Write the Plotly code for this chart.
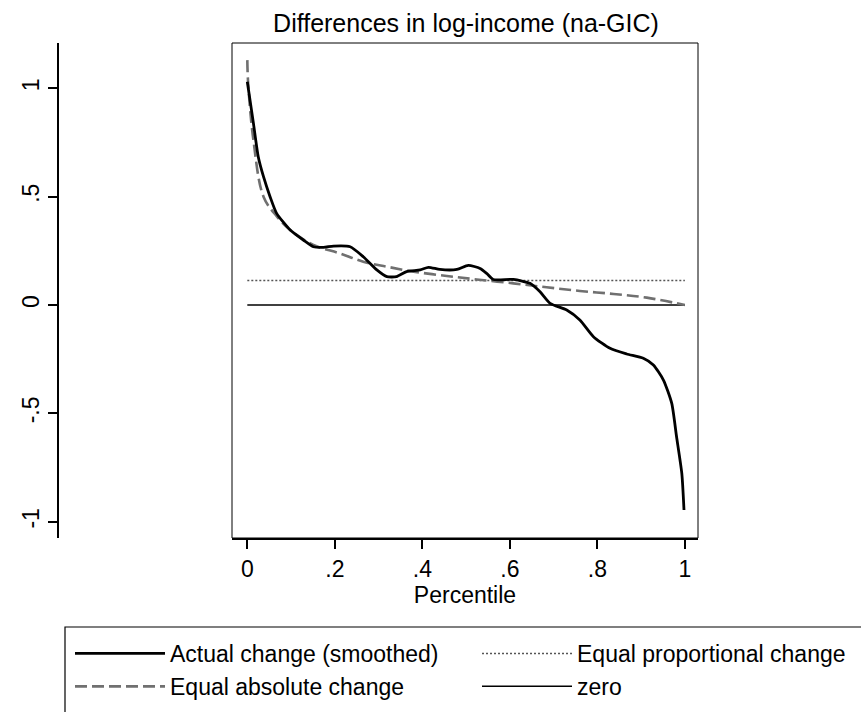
import plotly.graph_objects as go

# ---- data ----
pct_actual = [0.0, 0.014, 0.025, 0.037, 0.052, 0.067, 0.098, 0.128, 0.151, 0.174, 0.197,
              0.235, 0.265, 0.296, 0.319, 0.341, 0.364, 0.395, 0.414, 0.44, 0.479, 0.505,
              0.532, 0.547, 0.562, 0.608, 0.646, 0.669, 0.692, 0.73, 0.76, 0.791, 0.829,
              0.867, 0.905, 0.928, 0.951, 0.97, 0.981, 0.993, 0.998]
val_actual = [1.03, 0.838, 0.684, 0.592, 0.50, 0.423, 0.346, 0.30, 0.269, 0.266, 0.272,
              0.269, 0.223, 0.162, 0.131, 0.131, 0.154, 0.162, 0.174, 0.164, 0.164, 0.183,
              0.169, 0.146, 0.118, 0.118, 0.10, 0.061, 0.008, -0.023, -0.069, -0.146, -0.20,
              -0.226, -0.246, -0.277, -0.346, -0.454, -0.608, -0.777, -0.946]

pct_abs = [0.0, 0.002, 0.014, 0.037, 0.067, 0.098, 0.151, 0.212, 0.265, 0.319, 0.38,
           0.456, 0.524, 0.608, 0.684, 0.76, 0.837, 0.913, 1.0]
val_abs = [1.13, 1.02, 0.76, 0.50, 0.41, 0.346, 0.277, 0.238, 0.20, 0.177, 0.154,
           0.134, 0.118, 0.10, 0.082, 0.065, 0.051, 0.034, 0.0]

pct_prop = [0.0, 1.0]
val_prop = [0.113, 0.113]

pct_zero = [0.0, 1.0]
val_zero = [0.0, 0.0]

x_ticks = [0, 0.2, 0.4, 0.6, 0.8, 1]
x_ticktext = ["0", ".2", ".4", ".6", ".8", "1"]
y_ticks = [-1, -0.5, 0, 0.5, 1]
y_ticktext = ["-1", "-.5", "0", ".5", "1"]

FONT = "Liberation Sans, Arial, sans-serif"

fig = go.Figure()
fig.add_trace(go.Scatter(x=pct_zero, y=val_zero, mode="lines", name="zero",
                         line=dict(color="black", width=1.5), legend="legend2", legendrank=2))
fig.add_trace(go.Scatter(x=pct_prop, y=val_prop, mode="lines", name="Equal proportional change",
                         line=dict(color="#555555", width=1.6, dash="2px,2px"),
                         legend="legend2", legendrank=1))
fig.add_trace(go.Scatter(x=pct_abs, y=val_abs, mode="lines", name="Equal absolute change",
                         line=dict(color="#707070", width=2.6, dash="12px,5px", shape="spline"),
                         legend="legend", legendrank=2))
fig.add_trace(go.Scatter(x=pct_actual, y=val_actual, mode="lines", name="Actual change (smoothed)",
                         line=dict(color="black", width=2.8, shape="spline", smoothing=0.6),
                         legend="legend", legendrank=1))

legend_common = dict(xref="container", yref="container", yanchor="top", xanchor="left",
                     orientation="v", itemwidth=90, borderwidth=0, bgcolor="rgba(0,0,0,0)",
                     font=dict(family=FONT, size=23, color="black"), itemclick=False)

fig.update_layout(
    width=861, height=712,
    margin=dict(l=58, r=163, t=43, b=174, autoexpand=False),
    paper_bgcolor="white", plot_bgcolor="white",
    font=dict(family=FONT, color="black"),
    title=dict(text="Differences in log-income (na-GIC)", font=dict(family=FONT, size=25, color="black"),
               xref="container", x=466 / 861, xanchor="center",
               yref="container", y=1 - 23 / 712, yanchor="middle"),
    xaxis=dict(domain=[174 / 640, 1], range=[-0.035, 1.030], tickvals=x_ticks, ticktext=x_ticktext,
               ticks="outside", ticklen=9, tickwidth=1.5, tickcolor="black",
               showline=True, linewidth=2, linecolor="black", showgrid=False, zeroline=False,
               tickfont=dict(size=23), title=dict(text="Percentile", font=dict(size=23), standoff=0)),
    yaxis=dict(anchor="free", position=0, range=[-1.075, 1.209], tickvals=y_ticks, ticktext=y_ticktext,
               tickangle=-90, ticks="outside", ticklen=9, tickwidth=1.5, tickcolor="black",
               showline=True, linewidth=1.5, linecolor="black", showgrid=False, zeroline=False,
               tickfont=dict(size=23)),
    legend=dict(x=70 / 861, y=1 - 632 / 712, **legend_common),
    legend2=dict(x=477 / 861, y=1 - 632 / 712, **legend_common),
    shapes=[
        dict(type="rect", xref="x domain", yref="y domain", x0=0, x1=1, y0=0, y1=1,
             line=dict(color="black", width=1), layer="above"),
        dict(type="rect", xref="paper", yref="paper", x0=(65 - 58) / 640, x1=1.5,
             y0=-(720 - 538) / 495, y1=-(627 - 538) / 495, line=dict(color="black", width=1.2)),
    ],
)

fig.write_html("out.html")
